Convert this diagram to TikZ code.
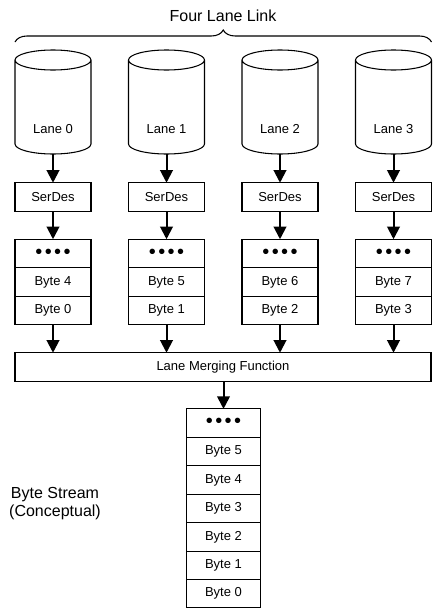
\documentclass[tikz,border=0pt]{standalone}
\usepackage{fontspec}
\setmainfont{Liberation Sans}
\usetikzlibrary{positioning,arrows.meta,decorations.pathreplacing}
\newcommand\fourdots{{\fontsize{15}{15}\selectfont\textbullet\kern1.8pt\textbullet\kern1.8pt\textbullet\kern1.8pt\textbullet}}

\begin{document}
\begin{tikzpicture}[x=0.75pt,y=-0.75pt,font=\fontsize{9.75}{12}\selectfont,node distance=0pt,
  lane/.style={minimum height=78pt,minimum width=57pt,inner sep=0pt,outer sep=0pt},
  rim/.style={x radius=28.5pt,y radius=7.5pt},
  cell/.style={draw,minimum width=57pt,minimum height=21.4pt,inner sep=0pt,outer sep=0pt,line width=0.8pt},
  big/.style={font=\fontsize{12}{13.5}\selectfont},
  push/.style={-{Triangle[length=9.5pt,width=9.5pt]},line width=1.5pt}]
\useasboundingbox (0,0) rectangle (438,614);
\node[big] (F) at (223,16) {Four Lane Link};
\node[cell,minimum width=312pt] (M) at (223,367) {Lane Merging Function};
\foreach \X [count=\Y from 0] in {53,166.5,280,393.5}
  {\pgfmathtruncatemacro{\Hi}{\Y+4}
  \node[lane] (L-\Y) at (\X,102) {};
  \draw[line width=0.8pt] ([yshift=-7.5pt]L-\Y.north west) -- ([yshift=7.5pt]L-\Y.south west)
    arc[rim,start angle=180,end angle=360] -- ([yshift=-7.5pt]L-\Y.north east)
    arc[rim,start angle=0,end angle=180] arc[rim,start angle=180,end angle=360];
  \node (T-\Y) at (\X,129) {Lane \Y};
  \node[cell] (S-\Y) at (\X,197) {SerDes};
  \node[cell] (D-\Y) at (\X,253.5) {\fourdots};
  \node[cell,below=of D-\Y] (H-\Y) {Byte \Hi};
  \node[cell,below=of H-\Y] (B-\Y) {Byte \Y};
  \draw[push] (L-\Y.south) -- (S-\Y.north);
  \draw[push] (S-\Y.south) -- (D-\Y.north);
  \draw[push] (B-\Y.south) -- (B-\Y.south |- M.north);}
% the merged stream
\node[cell,minimum width=56pt] (O-0) at (223.5,423.2) {\fourdots};
\foreach \X [count=\Y,remember=\Y as \LastY (initially 0)] in {5,4,3,2,1,0}
  {\node[cell,minimum width=56pt,minimum height=21.3pt,below=of O-\LastY] (O-\Y) {Byte \X};}
\draw[push] (M.south -| O-0.north) -- (O-0.north);
\node[big,align=center] (C) at (55,504) {Byte Stream\\(Conceptual)};
\draw[decorate,decoration={brace,amplitude=9pt},line width=0.8pt]
  ([yshift=6pt]L-0.north west) -- ([yshift=6pt]L-3.north east);
\end{tikzpicture}
\end{document}
